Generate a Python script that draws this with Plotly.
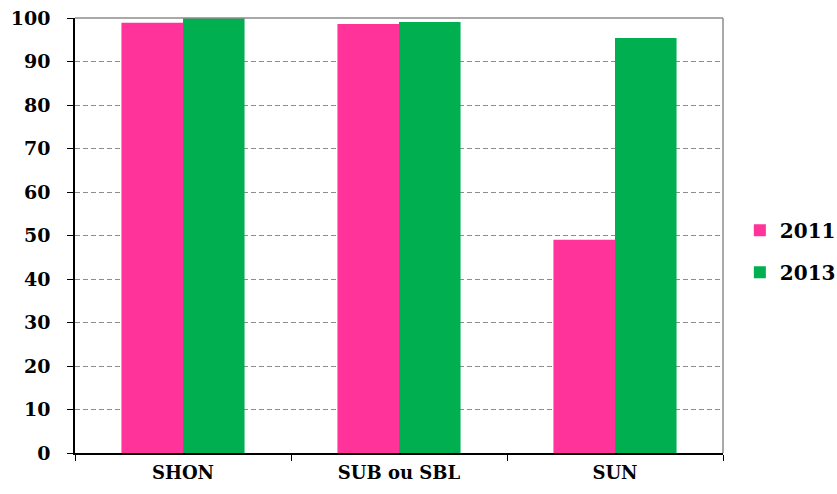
import plotly.graph_objects as go

categories = ["SHON", "SUB ou SBL", "SUN"]
values_2011 = [98.9, 98.6, 49.0]
values_2013 = [100.0, 99.1, 95.4]
series_names = ["2011", "2013"]
y_ticks = [0, 10, 20, 30, 40, 50, 60, 70, 80, 90, 100]

font_family = "DejaVu Serif"

fig = go.Figure()
fig.add_trace(go.Bar(x=categories, y=values_2011, name=series_names[0], legendgroup="a",
                     marker=dict(color="#FF3399", line=dict(width=0))))
fig.add_trace(go.Bar(x=categories, y=values_2013, name=series_names[1], legendgroup="b",
                     marker=dict(color="#00B050", line=dict(width=0))))

fig.update_layout(
    width=837, height=494,
    margin=dict(l=75, r=114, t=18, b=41, autoexpand=False),
    paper_bgcolor="white", plot_bgcolor="white",
    barmode="group", bargap=0.43, bargroupgap=0,
    font=dict(family=font_family, color="black", size=18),
    legend=dict(x=1.026, y=0.464, xanchor="left", yanchor="middle",
                font=dict(family=font_family, size=20, weight="bold"),
                itemwidth=30, tracegroupgap=13),
    showlegend=True,
)
fig.update_xaxes(
    automargin=False,
    showline=True, linecolor="black", linewidth=1.5,
    ticks="outside", tickson="boundaries", ticklen=6, tickcolor="black",
    tickfont=dict(family=font_family, size=18, weight="bold"),
    ticklabelstandoff=3,
    showgrid=False,
)
fig.update_yaxes(
    automargin=False,
    range=[0, 100], tickvals=y_ticks,
    showline=True, linecolor="black", linewidth=1.5,
    ticks="outside", ticklen=6, tickcolor="black",
    tickfont=dict(family=font_family, size=19, weight="bold"),
    ticklabelstandoff=13,
    showgrid=True, gridcolor="#8c8c8c", griddash="5px,3px", gridwidth=1.3,
    zeroline=False,
)
fig.add_shape(type="line", xref="paper", yref="paper", x0=0, x1=1, y0=1, y1=1,
              line=dict(color="#8c8c8c", width=1.5), layer="above")
fig.add_shape(type="line", xref="paper", yref="paper", x0=1, x1=1, y0=0, y1=1,
              line=dict(color="#8c8c8c", width=1.5), layer="above")

fig.write_html("out.html", config={"displayModeBar": False},
               post_script="document.body.style.margin='0';document.body.style.overflow='hidden';")
